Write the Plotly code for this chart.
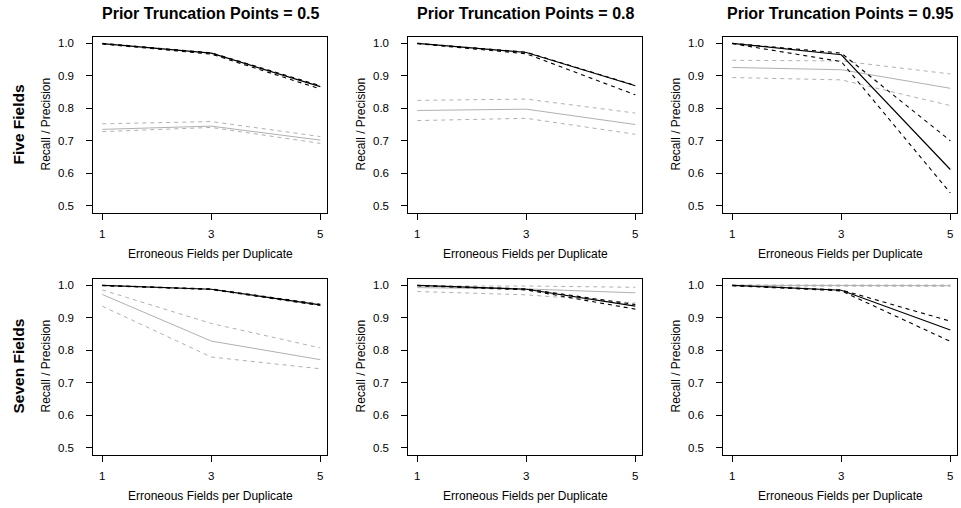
import plotly.graph_objects as go

# ---------------- data ----------------
x_fields = [1, 3, 5]
truncation_points = ["0.5", "0.8", "0.95"]
row_labels = ["Five Fields", "Seven Fields"]
y_ticks = [0.5, 0.6, 0.7, 0.8, 0.9, 1.0]
y_tick_text = ["0.5", "0.6", "0.7", "0.8", "0.9", "1.0"]
x_ticks = [1, 3, 5]
x_title = "Erroneous Fields per Duplicate"
y_title = "Recall / Precision"

# one inner list per truncation point (0.5, 0.8, 0.95); values at x = 1, 3, 5
five_black_mid = [[0.998, 0.969, 0.866], [0.999, 0.971, 0.869], [0.999, 0.964, 0.612]]
five_black_lo = [[0.997, 0.966, 0.859], [0.998, 0.967, 0.841], [0.998, 0.943, 0.540]]
five_black_hi = [[0.999, 0.970, 0.869], [0.999, 0.972, 0.870], [0.999, 0.969, 0.700]]
five_gray_mid = [[0.735, 0.745, 0.702], [0.793, 0.797, 0.750], [0.925, 0.918, 0.861]]
five_gray_lo = [[0.728, 0.741, 0.692], [0.762, 0.769, 0.720], [0.894, 0.887, 0.808]]
five_gray_hi = [[0.752, 0.759, 0.713], [0.824, 0.828, 0.785], [0.947, 0.945, 0.905]]

seven_black_mid = [[0.999, 0.987, 0.939], [0.999, 0.987, 0.935], [0.999, 0.984, 0.862]]
seven_black_lo = [[0.998, 0.986, 0.937], [0.998, 0.985, 0.926], [0.998, 0.982, 0.827]]
seven_black_hi = [[0.999, 0.988, 0.941], [0.999, 0.988, 0.940], [0.999, 0.985, 0.889]]
seven_gray_mid = [[0.971, 0.828, 0.771], [0.992, 0.988, 0.976], [0.999, 0.999, 0.998]]
seven_gray_lo = [[0.935, 0.779, 0.743], [0.980, 0.970, 0.945], [0.997, 0.997, 0.996]]
seven_gray_hi = [[0.985, 0.882, 0.807], [0.997, 0.997, 0.993], [1.000, 1.000, 1.000]]

# ---------------- layout geometry ----------------
W, H = 961, 508
FONT = "Liberation Sans, Arial, Helvetica, sans-serif"
col_left = [93.3, 408.3, 723.3]
col_width = 233.4
row_top = [36.5, 278.5]
row_height = 176.0
x_range = [0.835, 5.117]
y_range = [0.48, 1.02]
BLACK = "#000000"
GRAY = "#b0b0b0"
DASH = "4px,4px"

rows_data = [
    (five_black_mid, five_black_lo, five_black_hi, five_gray_mid, five_gray_lo, five_gray_hi),
    (seven_black_mid, seven_black_lo, seven_black_hi, seven_gray_mid, seven_gray_lo, seven_gray_hi),
]

fig = go.Figure()
annotations = []

for r in range(2):
    bm, bl, bh, gm, gl, gh = rows_data[r]
    for c in range(3):
        n = r * 3 + c + 1
        xa = "x" if n == 1 else f"x{n}"
        ya = "y" if n == 1 else f"y{n}"
        series = [
            (gh[c], GRAY, DASH, 1.0),
            (gl[c], GRAY, DASH, 1.0),
            (gm[c], GRAY, "solid", 1.0),
            (bh[c], BLACK, DASH, 1.1),
            (bl[c], BLACK, DASH, 1.1),
            (bm[c], BLACK, "solid", 1.2),
        ]
        for vals, col, dash, w in series:
            fig.add_trace(go.Scatter(
                x=x_fields, y=vals, mode="lines", xaxis=xa, yaxis=ya,
                line=dict(color=col, dash=dash, width=w),
                showlegend=False, hoverinfo="skip"))

        x0 = col_left[c] / W
        x1 = (col_left[c] + col_width) / W
        y1 = 1 - row_top[r] / H
        y0 = 1 - (row_top[r] + row_height) / H
        axis_common = dict(showline=True, mirror=True, linecolor="black", linewidth=1,
                           ticks="outside", ticklen=6, tickwidth=1, tickcolor="black",
                           showgrid=False, zeroline=False, fixedrange=True,
                           tickfont=dict(family=FONT, size=11.5, color="black"))
        fig.layout[f"xaxis{n if n > 1 else ''}"] = dict(
            domain=[x0, x1], range=x_range, tickvals=x_ticks,
            ticktext=[str(v) for v in x_ticks], anchor=ya,
            ticklabelstandoff=5, **axis_common)
        fig.layout[f"yaxis{n if n > 1 else ''}"] = dict(
            domain=[y0, y1], range=y_range, tickvals=y_ticks,
            ticktext=y_tick_text, anchor=xa,
            ticklabelstandoff=10, **axis_common)

        cx = (col_left[c] + col_width / 2) / W
        cy = 1 - (row_top[r] + row_height / 2) / H
        # x-axis title
        annotations.append(dict(
            text=x_title, x=cx, y=1 - (row_top[r] + row_height + 41.5) / H,
            xref="paper", yref="paper", showarrow=False, xanchor="center", yanchor="middle",
            font=dict(family=FONT, size=12, color="black")))
        # y-axis title
        annotations.append(dict(
            text=y_title, x=(45 + 315 * c) / W, y=cy, textangle=-90,
            xref="paper", yref="paper", showarrow=False, xanchor="center", yanchor="middle",
            font=dict(family=FONT, size=12, color="black")))
        if r == 0:
            annotations.append(dict(
                text=f"<b>Prior Truncation Points = {truncation_points[c]}</b>",
                x=cx, y=1 - 14 / H, xref="paper", yref="paper", showarrow=False,
                xanchor="center", yanchor="middle",
                font=dict(family=FONT, size=16, color="black")))
    annotations.append(dict(
        text=f"<b>{row_labels[r]}</b>", x=18 / W,
        y=1 - (row_top[r] + row_height / 2) / H, textangle=-90,
        xref="paper", yref="paper", showarrow=False, xanchor="center", yanchor="middle",
        font=dict(family=FONT, size=15.5, color="black")))

fig.update_layout(
    width=W, height=H, margin=dict(l=0, r=0, t=0, b=0),
    paper_bgcolor="white", plot_bgcolor="white",
    annotations=annotations, showlegend=False,
    font=dict(family=FONT, color="black"))

fig.write_html("out.html", config={"displayModeBar": False},
               post_script="document.body.style.margin='0';document.body.style.padding='0';")
